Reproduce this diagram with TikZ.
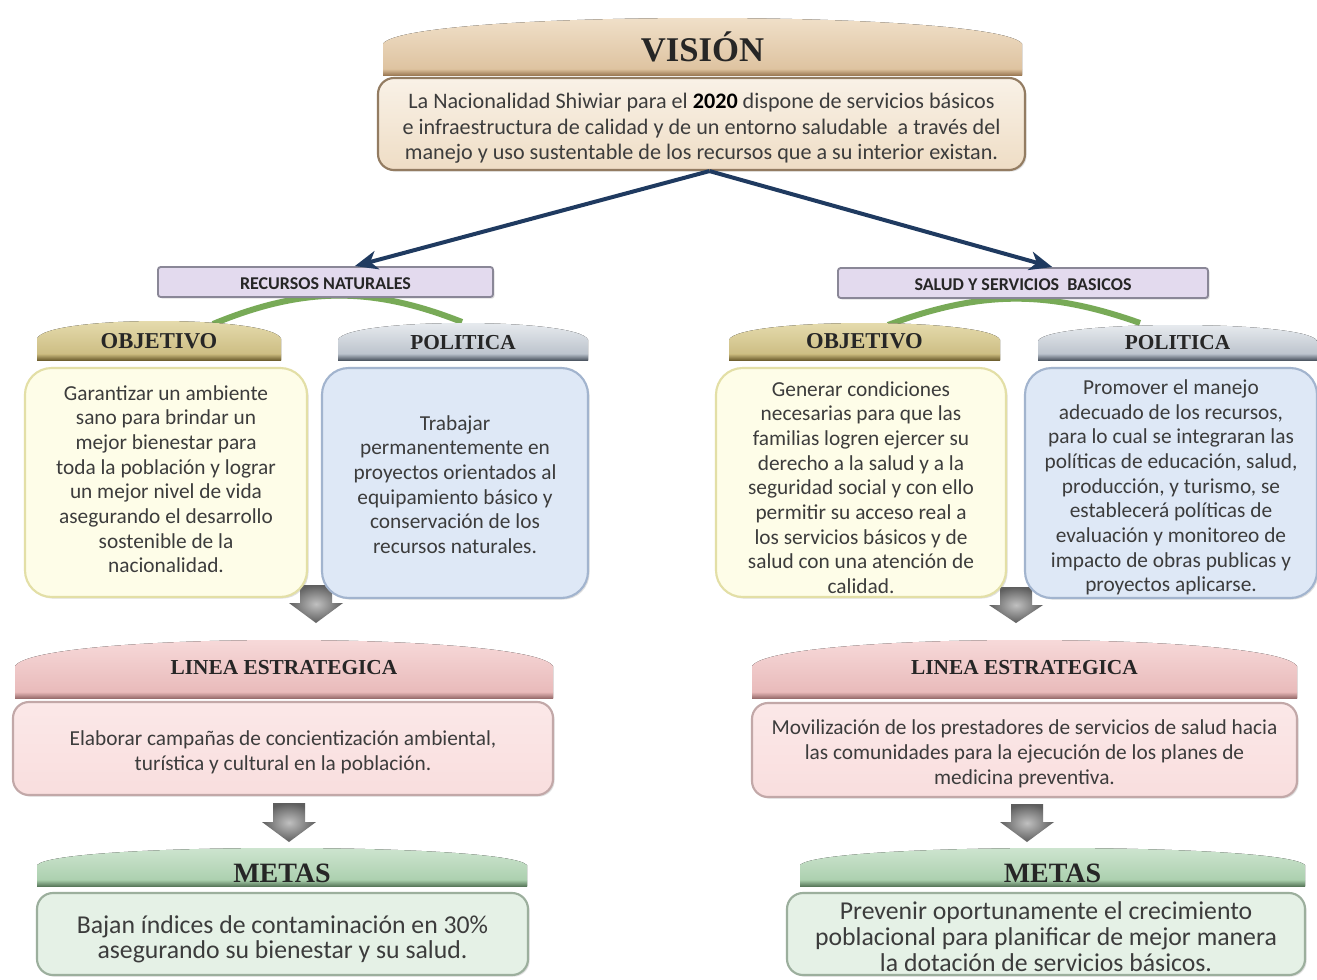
\documentclass[tikz,border=0pt]{standalone}
\usepackage{fontspec}
\setmainfont{Carlito}
\newfontfamily\titlefont{Liberation Serif}
\usetikzlibrary{shadows,arrows.meta,calc,fit}
\definecolor{visL}{HTML}{F3E4CF}\definecolor{visM}{HTML}{DCC09C}\definecolor{visD}{HTML}{9C7A55}
\definecolor{objL}{HTML}{E9E0B4}\definecolor{objM}{HTML}{C8B87C}\definecolor{objD}{HTML}{6F6030}
\definecolor{polL}{HTML}{EEF1F4}\definecolor{polM}{HTML}{B4BCC6}\definecolor{polD}{HTML}{4F5864}
\definecolor{linL}{HTML}{F9DEDE}\definecolor{linM}{HTML}{E7B7B7}\definecolor{linD}{HTML}{9A6E6E}
\definecolor{metL}{HTML}{D3E8D5}\definecolor{metM}{HTML}{A6CCA9}\definecolor{metD}{HTML}{5A7A5C}
\definecolor{txt}{HTML}{3C3C3C}
\definecolor{navy}{HTML}{1F3A60}
\definecolor{arcgreen}{HTML}{78AA57}
\definecolor{arrL}{HTML}{C0C0C0}\definecolor{arrD}{HTML}{5E5E5E}
\definecolor{recF}{HTML}{E3DAEE}\definecolor{recD}{HTML}{8A8797}
\definecolor{objF}{HTML}{FEFDE8}\definecolor{objB}{HTML}{E3DFA6}
\definecolor{polF}{HTML}{DEE8F6}\definecolor{polB}{HTML}{A2B4CE}
\tikzset{
  basebox/.style={fit={#1}, inner sep=0pt, rounded corners=12pt, line width=1.6pt,
     drop shadow={shadow xshift=1.2pt,shadow yshift=-1.2pt,opacity=0.25}},
  visbox/.style={basebox={#1}, top color=white!50!visL, bottom color=visL!80!visM, draw=visD!70!gray},
  recbox/.style={basebox={#1}, rounded corners=2pt, fill=recF, draw=recD, line width=1.4pt},
  objbox/.style={basebox={#1}, rounded corners=20pt, fill=objF, draw=objB},
  polbox/.style={basebox={#1}, rounded corners=20pt, fill=polF, draw=polB},
  linbox/.style={basebox={#1}, top color=linL!70, bottom color=linL, draw=linD!60},
  metbox/.style={basebox={#1}, fill=metL!60!white, draw=metD!60},
  btext/.style={align=center, text=txt, inner sep=0pt, font={\fontsize{16}{18.5}\selectfont}},
  rtext/.style={inner sep=0pt, text=black!85, font={\bfseries\fontsize{13.5}{15}\selectfont}},
  bannertext/.style={text=black!85, inner sep=0pt},
  bluearrow/.style={draw=navy, line width=3pt, -{Stealth[length=17pt,width=14pt,inset=5pt]}},
  greenarc/.style={draw=arcgreen, line width=4.5pt}
}
\newcommand{\ribbon}[8]{%
  \pgfmathsetmacro{\rh}{#5-#4}%
  \pgfmathsetmacro{\rys}{#4+0.45*\rh}%
  \pgfmathsetmacro{\ryc}{#4-0.15*\rh}%
  \pgfmathsetmacro{\rw}{#3-#2}%
  \fill[top color=#6L, bottom color=#6M] (#2,#5) -- (#2,\rys) .. controls ({#2+0.04*\rw},\ryc) and ({#3-0.04*\rw},\ryc) .. (#3,\rys) -- (#3,#5) -- cycle;
  \fill[top color=#6M, bottom color=#6D] (#2,{#5-6}) rectangle (#3,#5);
  \node[bannertext] (#1) at ({(#2+#3)/2},#7) {#8};
}
\newcommand{\grayarrow}[4]{%
  \shade[inner color=arrL, outer color=arrD] ({#1-16},#2) -- ({#1+16},#2) -- ({#1+16},#3) -- ({#1+27},#3) -- (#1,#4) -- ({#1-27},#3) -- ({#1-16},#3) -- cycle;
}
\begin{document}
\begin{tikzpicture}[x=0.75pt,y=-0.75pt]
\useasboundingbox (0,0) rectangle (1317,979);
\fill[white] (0,0) rectangle (1317,979);

% green arcs
\coordinate (gA1) at (213,324); \coordinate (gA2) at (462,322);
\coordinate (gB1) at (888,325); \coordinate (gB2) at (1140,323);
\draw[greenarc] (gA1) to[bend left=22] (gA2);
\draw[greenarc] (gB1) to[bend left=20] (gB2);

% gray arrows
\grayarrow{316}{585}{603}{623}
\grayarrow{289}{803}{822}{842}
\grayarrow{1016}{587}{605}{623}
\grayarrow{1027}{804}{822}{842}

% vision
\ribbon{visT}{383}{1022}{18}{75}{vis}{47}{\titlefont\bfseries\fontsize{26}{28}\selectfont VISIÓN}
\node[visbox={(378,78) (1025,170)}] (visB) {};
\node[btext, font={\fontsize{16.6}{19.2}\selectfont}] (vision) at ($(visB.center)+(0,4.5)$) {La Nacionalidad Shiwiar para el {\color{black}\bfseries 2020} dispone de servicios básicos\\
e infraestructura de calidad y de un entorno saludable\ \ a través del\\
manejo y uso sustentable de los recursos que a su interior existan.};

% category boxes
\node[recbox={(158,267) (493,297)}] (rec) {};
\node[rtext] (recT) at ($(rec.center)+(0,2)$) {RECURSOS\ NATURALES};
\node[recbox={(838,268) (1208,298)}] (sal) {};
\node[rtext] (salT) at ($(sal.center)+(0,2)$) {SALUD Y SERVICIOS\ \ BASICOS};

% column banners
\ribbon{objLT}{37}{281}{321}{360}{obj}{341}{\titlefont\bfseries\fontsize{17}{19}\selectfont OBJETIVO}
\ribbon{polLT}{338}{588}{323}{360}{pol}{343}{\titlefont\bfseries\fontsize{16}{18}\selectfont POLITICA}
\ribbon{objRT}{729}{1000}{323}{360}{obj}{341}{\titlefont\bfseries\fontsize{17}{19}\selectfont OBJETIVO}
\ribbon{polRT}{1038}{1317}{325}{360}{pol}{343}{\titlefont\bfseries\fontsize{16}{18}\selectfont POLITICA}

\node[objbox={(25,368) (307,597)}] (objLB) {};
\node[btext] (objL) at ($(objLB.center)+(0,-3.5)$) {Garantizar un ambiente\\ sano para brindar un\\ mejor bienestar para\\ toda la población y lograr\\ un mejor nivel de vida\\ asegurando el desarrollo\\ sostenible de la\\ nacionalidad.};
\node[polbox={(322,368) (588,598)}] (polLB) {};
\node[btext] (polL) at ($(polLB.center)+(0,1.5)$) {Trabajar\\ permanentemente en\\ proyectos orientados al\\ equipamiento básico y\\ conservación de los\\ recursos naturales.};
\node[objbox={(716,368) (1006,597)}] (objRB) {};
\node[btext] (objR) at ($(objRB.center)+(0,5)$) {Generar condiciones\\ necesarias\ para que las\\ familias\ logren ejercer su\\ derecho a la salud y a la\\ seguridad social y con ello\\ permitir su acceso real a\\ los servicios básicos\ y de\\ salud con una atención de\\ calidad.};
\node[polbox={(1025,368) (1317,598)}] (polRB) {};
\node[btext] (polR) at ($(polRB.center)+(0,4.5)$) {Promover el manejo\\ adecuado de los recursos,\\ para lo cual se integraran las\\ políticas de educación, salud,\\ producción, y turismo, se\\ establecerá políticas de\\ evaluación y monitoreo de\\ impacto de obras publicas y\\ proyectos aplicarse.};

% linea estrategica
\ribbon{linLT}{15}{553}{640}{698}{lin}{668}{\titlefont\bfseries\fontsize{16}{18}\selectfont LINEA ESTRATEGICA}
\ribbon{linRT}{752}{1297}{640}{698}{lin}{668}{\titlefont\bfseries\fontsize{16}{18}\selectfont LINEA ESTRATEGICA}
\node[linbox={(13,702) (553,795)}] (linLB) {};
\node[btext] (linL) at ($(linLB.center)+(0,4)$) {Elaborar campañas de concientización ambiental,\\ turística y cultural en la población.};
\node[linbox={(752,703) (1297,797)}] (linRB) {};
\node[btext, font={\fontsize{16}{19}\selectfont}] (linR) at ($(linRB.center)+(0,3.7)$) {Movilización de los prestadores de servicios de salud hacia\\ las comunidades para la ejecución de los planes de\\ medicina preventiva.};

% metas
\ribbon{metLT}{37}{527}{848}{886}{met}{873}{\titlefont\bfseries\fontsize{21}{23}\selectfont METAS}
\ribbon{metRT}{800}{1305}{848}{886}{met}{873}{\titlefont\bfseries\fontsize{21}{23}\selectfont METAS}
\node[metbox={(37,893) (528,975)}] (metLB) {};
\node[btext, font={\fontsize{19.3}{19}\selectfont}] (metL) at ($(metLB.center)+(0,5.5)$) {Bajan índices de contaminación en 30\%\\ asegurando su bienestar y su salud.};
\node[metbox={(787,893) (1305,975)}] (metRB) {};
\node[btext, font={\fontsize{19.3}{19.3}\selectfont}] (metR) at ($(metRB.center)+(0,2.5)$) {Prevenir oportunamente el crecimiento\\ poblacional para planificar de mejor manera\\ la dotación de servicios básicos.};

% blue arrows
\draw[bluearrow] ([xshift=6pt]visB.south) -- ([xshift=22pt]rec.north);
\draw[bluearrow] ([xshift=6pt]visB.south) -- ([xshift=22pt]sal.north);
\end{tikzpicture}
\end{document}
